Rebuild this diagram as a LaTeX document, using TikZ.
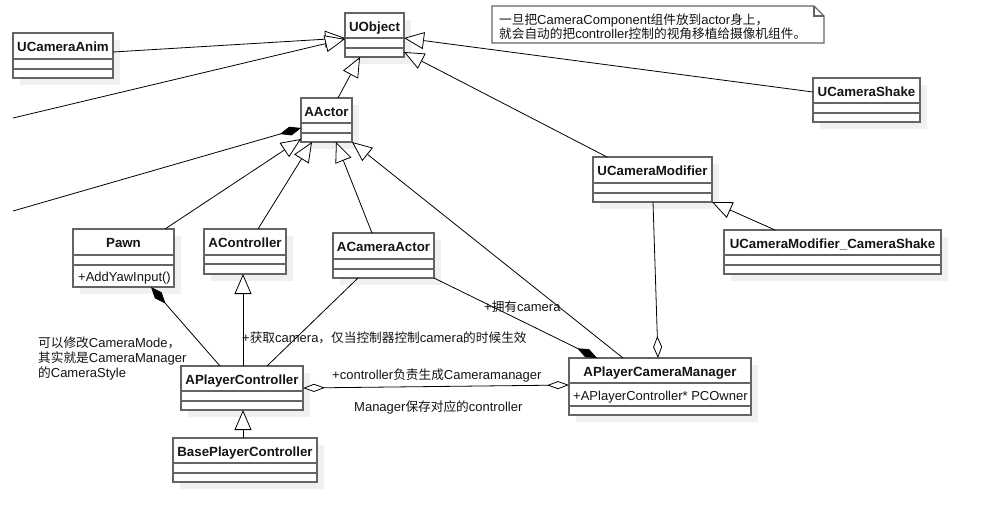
\documentclass[tikz,border=0pt]{standalone}
\usepackage{fontspec}
\setmainfont{Liberation Sans}
\newfontfamily\cjkf[Scale=0.975]{Noto Sans CJK SC}
\newcommand\zh[1]{{\cjkf #1}}
\usetikzlibrary{arrows.meta,calc}
\definecolor{boxgray}{RGB}{100,100,100}
\definecolor{shadowc}{RGB}{240,240,240}
\definecolor{txt}{RGB}{20,20,20}
\newcommand\umlclass[8]{%
  \fill[shadowc] (#2+7,#3+7) rectangle (#4+7,#5+7);
  \node[classbox,minimum width={(#4-#2)*1pt},minimum height={(#5-#3)*1pt},anchor=north west] (#1) at (#2,#3) {};
  \draw[compline] (#2,#6) -- (#4,#6);
  \draw[compline] (#2,#7) -- (#4,#7);
  \node[titletext] (#1-t) at ({(#2+#4)/2},{(#3+#6)/2+5.8}) {#8};
}
\begin{document}
\begin{tikzpicture}[x=1pt,y=-1pt,
  classbox/.style={draw=boxgray,line width=1.5pt,fill=white,inner sep=0pt,outer sep=0pt},
  compline/.style={draw=boxgray,line width=1.5pt},
  notebox/.style={draw=boxgray,line width=1.2pt},
  titletext/.style={anchor=base,inner sep=0pt,font=\fontsize{13.3}{16}\selectfont\bfseries,text=txt},
  rowtext/.style={anchor=base west,inner sep=0pt,font=\fontsize{13}{16}\selectfont,text=txt},
  lbl/.style={anchor=base west,inner sep=0pt,font=\fontsize{13}{16}\selectfont,text=txt},
  conn/.style={draw=black,line width=0.8pt},
  inh/.style={conn,-{Triangle[length=20pt,width=17pt,fill=white]}},
  compE/.style={conn,-{Diamond[length=22pt,width=9pt,fill=black]}},
  compS/.style={conn,{Diamond[length=22pt,width=9pt,fill=black]}-},
  aggE/.style={conn,-{Diamond[length=22pt,width=9pt,fill=white]}},
  aggB/.style={conn,{Diamond[length=22pt,width=8pt,fill=white]}-{Diamond[length=22pt,width=8pt,fill=white]}},
]
\useasboundingbox (0,0) rectangle (981,506);
\fill[white] (0,0) rectangle (981,506);

% classes
\umlclass{ucanim}{13}{33}{113}{78}{59}{69}{UCameraAnim}
\umlclass{uobject}{345}{13}{404}{57}{38}{48}{UObject}
\umlclass{aactor}{301}{98}{352}{142}{123}{133}{AActor}
\umlclass{ucshake}{813}{78}{920}{122}{103}{113}{UCameraShake}
\umlclass{ucmod}{593}{157}{712}{202}{183}{193}{UCameraModifier}
\umlclass{ucmcs}{724}{230}{941}{274}{255}{265}{UCameraModifier\_CameraShake}
\umlclass{pawn}{73}{229}{174}{287}{255}{265}{Pawn}
\umlclass{actrl}{204}{229}{286}{274}{255}{264}{AController}
\umlclass{acamact}{333}{233}{434}{278}{259}{269}{ACameraActor}
\umlclass{apc}{181}{366}{303}{410}{391}{401}{APlayerController}
\umlclass{bpc}{173}{438}{317}{482}{463}{473}{BasePlayerController}
\umlclass{apcm}{569}{358}{751}{415}{383}{406}{APlayerCameraManager}

\node[rowtext] (pawn-op) at (78,281) {+AddYawInput()};
\node[rowtext] (apcm-at) at (573,400) {+APlayerController* PCOwner};

% note
\draw[notebox] (492,6) -- (814,6) -- (824,16) -- (824,43) -- (492,43) -- cycle;
\draw[notebox] (814,6) -- (814,16) -- (824,16);
\node[lbl] (note1) at (499,24) {\zh{一旦把}CameraComponent\zh{组件放到}actor\zh{身上，}};
\node[lbl] (note2) at (499,38) {\zh{就会自动的把}controller\zh{控制的视角移植给摄像机组件。}};

% connectors
\coordinate (freeA) at (13,118);
\coordinate (freeB) at (13,211);
\draw[inh] (ucanim.east |- 0,52) -- (uobject.west |- 0,38);
\draw[inh] (freeA) -- (uobject.west |- 0,39);
\draw[compE] (freeB) -- (aactor.west |- 0,128);
\draw[inh] (ucshake.west |- 0,92) -- (uobject.east |- 0,38);
\draw[inh] (ucmod.north -| 607,0) -- (uobject.east |- 0,52);
\draw[inh] (aactor.north -| 338,0) -- (uobject.south -| 360,0);
\draw[inh] (pawn.north -| 165,0) -- (aactor.west |- 0,139);
\draw[inh] (actrl.north -| 258,0) -- (aactor.south -| 312,0);
\draw[inh] (acamact.north -| 372,0) -- (aactor.south -| 336,0);
\draw[inh] (apcm.north -| 623,0) -- (aactor.south east);
\draw[inh] (ucmcs.north -| 775,0) -- (ucmod.south east);
\draw[aggE] (ucmod.south -| 653,0) -- (apcm.north -| 658,0);
\draw[compE] (acamact.south east) -- (apcm.north -| 597,0);
\draw[compS] (pawn.south -| 151,0) -- (apc.north -| 220,0);
\draw[inh] (apc.north -| 243,0) -- (actrl.south -| 243,0);
\draw[conn] (acamact.south -| 358,0) -- (apc.north -| 267,0);
\draw[aggB] (apc.east |- 0,388) -- (apcm.west |- 0,385);
\draw[inh] (bpc.north -| 243,0) -- (apc.south -| 243,0);

% labels
\node[lbl] (lget) at (242,342) {+\zh{获取}camera\zh{，仅当控制器控制}camera\zh{的时候生效}};
\node[lbl] (lctrl) at (332,379) {+controller\zh{负责生成}Cameramanager};
\node[lbl] (lmgr) at (354,411) {Manager\zh{保存对应的}controller};
\node[lbl] (lown) at (484,311) {+\zh{拥有}camera};
\node[lbl] (left1) at (38,347) {\zh{可以修改}CameraMode\zh{，}};
\node[lbl] (left2) at (38,362) {\zh{其实就是}CameraManager};
\node[lbl] (left3) at (38,377) {\zh{的}CameraStyle};
\end{tikzpicture}
\end{document}
